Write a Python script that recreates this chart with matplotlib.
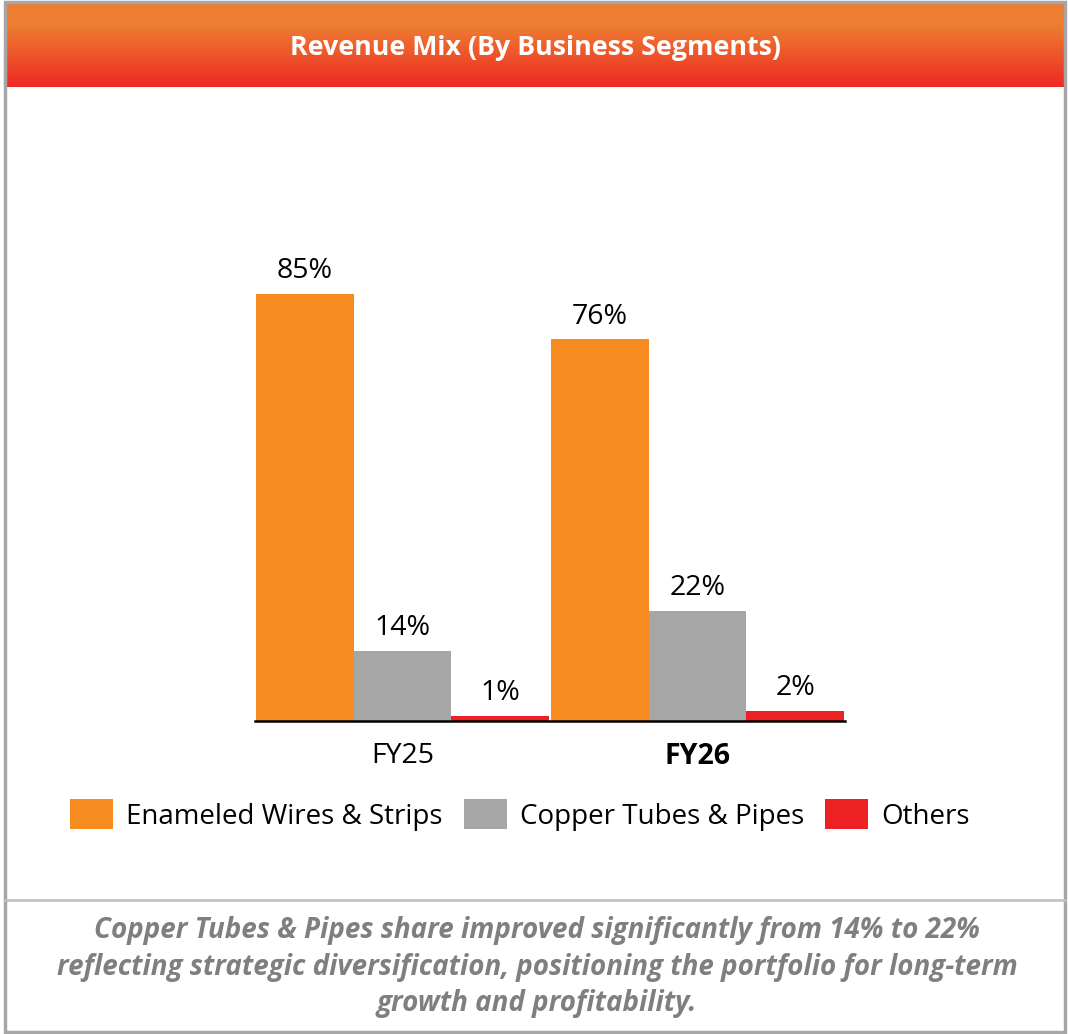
import numpy as np
import matplotlib
matplotlib.use("Agg")
import matplotlib.pyplot as plt
from matplotlib.patches import Rectangle, Patch
from matplotlib.lines import Line2D

# ---- data ----
categories = ["FY25", "FY26"]
series_names = ["Enameled Wires & Strips", "Copper Tubes & Pipes", "Others"]
enameled = [85, 76]
copper = [14, 22]
others = [1, 2]
series_values = [enameled, copper, others]
series_colors = ["#F68B1F", "#A6A6A6", "#ED2024"]
title = "Revenue Mix (By Business Segments)"
footnote = ("Copper Tubes & Pipes share improved significantly from 14% to 22%\n"
            "reflecting strategic diversification, positioning the portfolio for long-term\n"
            "growth and profitability.")

W, H = 1068, 1034
fig = plt.figure(figsize=(W / 100, H / 100), dpi=100)
FONT = "Open Sans"

def fx(px):
    return px / W

def fy(py):
    return 1 - py / H

# header gradient
hax = fig.add_axes([fx(6), fy(87), fx(1064 - 6), (87 - 3) / H])
top = np.array([237, 125, 49]) / 255
bot = np.array([238, 40, 36]) / 255
n = 84
t = np.clip((np.arange(n) - 22) / (n - 22), 0, 1)
grad = top[None, :] * (1 - t[:, None]) + bot[None, :] * t[:, None]
hax.imshow(grad[:, None, :], aspect="auto", extent=[0, 1, 1, 0])
hax.set_axis_off()
hax.text(0.5, 0.46, title, color="white", fontsize=19.3, fontweight="bold",
         family=FONT, ha="center", va="center", transform=hax.transAxes)

# border and divider
fig.patches.append(Rectangle((fx(5), fy(1032)), fx(1065 - 5), (1032 - 2) / H,
                             transform=fig.transFigure, fill=False,
                             edgecolor="#A6A6A6", linewidth=2.5))
fig.lines.append(Line2D([fx(5), fx(1065)], [fy(900), fy(900)],
                        transform=fig.transFigure, color="#BFBFBF", linewidth=1.8))

# bar chart
ax = fig.add_axes([fx(255), fy(721), fx(845 - 255), 502 / H])
x = np.arange(len(categories))
w = 0.332
offsets = [-w, 0, w]
for vals, off, col, name in zip(series_values, offsets, series_colors, series_names):
    bars = ax.bar(x + off, vals, width=w, color=col, label=name, zorder=2)
    for b, v in zip(bars, vals):
        ax.annotate(f"{v}%", (b.get_x() + b.get_width() / 2, b.get_height()),
                    xytext=(0, 16.5), textcoords="offset points", ha="center",
                    va="center", fontsize=20.5, family=FONT, color="black")
ax.set_xlim(-0.5, 1.5)
ax.set_ylim(0, 100)
ax.set_xticks(x)
ax.set_xticklabels(categories, fontsize=20.5, family=FONT)
ax.get_xticklabels()[1].set_fontweight("bold")
ax.tick_params(axis="x", length=0, pad=15)
ax.set_yticks([])
for s in ["top", "left", "right"]:
    ax.spines[s].set_visible(False)
ax.spines["bottom"].set_linewidth(1.8)
ax.spines["bottom"].set_color("black")
ax.set_facecolor("none")

# legend
handles = [Patch(facecolor=c, edgecolor="none") for c in series_colors]
fig.legend(handles, series_names, loc="center", bbox_to_anchor=(fx(520), fy(815)),
           ncol=3, frameon=False, prop={"family": FONT, "size": 20},
           handlelength=1.55, handleheight=1.26, handletextpad=0.47,
           columnspacing=0.75, borderaxespad=0)

# footnote
fig.text(fx(537), fy(967), footnote, ha="center", va="center", fontsize=20,
         fontweight="bold", style="italic", family=FONT, color="#7F7F7F",
         linespacing=1.34)

fig.savefig("out.png", dpi=100, facecolor="white")
